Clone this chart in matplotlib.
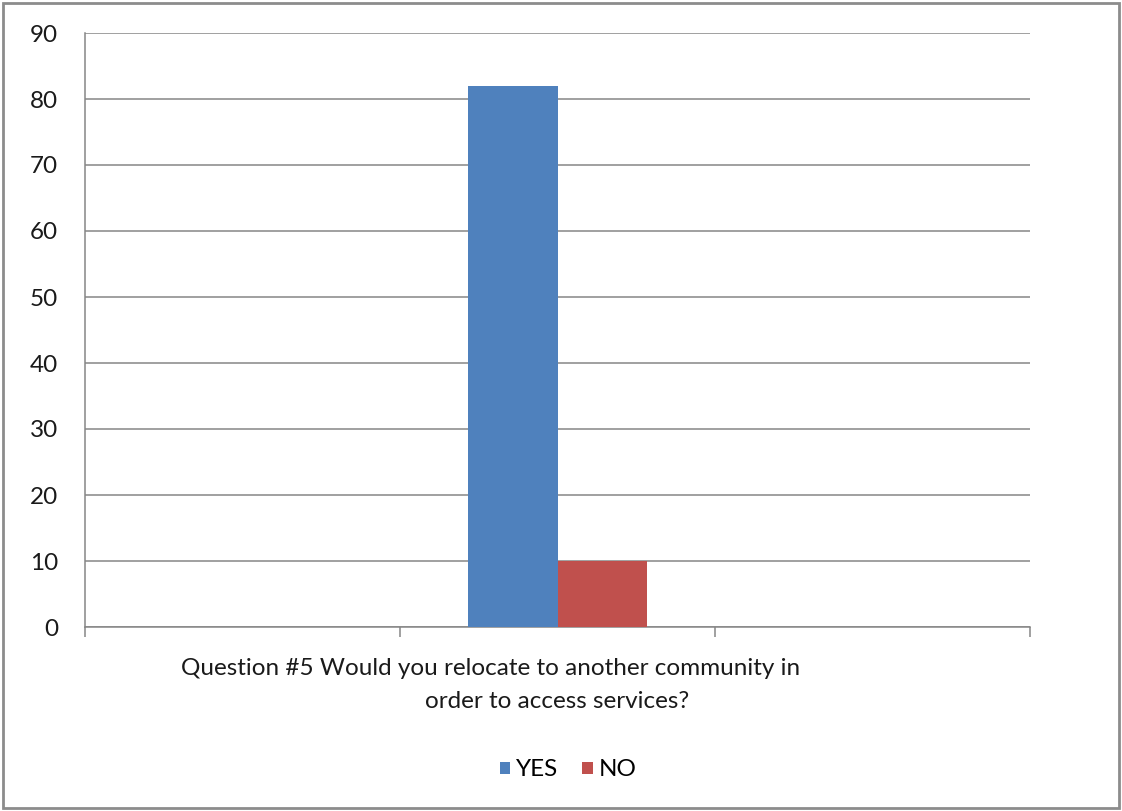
import matplotlib.pyplot as plt
from matplotlib.patches import Rectangle
import matplotlib.transforms as mtransforms

plt.rcParams['font.family'] = ['Lato', 'DejaVu Sans']

# Podaci
kategorije = [0, 1, 2]
serije = ['YES', 'NO']
vrijednosti = {'YES': [0, 82, 0], 'NO': [0, 10, 0]}
boje = {'YES': '#4F81BD', 'NO': '#C0504D'}
oznaka_redovi = ['Question #5 Would you relocate to another community in',
                 'order to access services?']

fig = plt.figure(figsize=(11.22, 8.11), dpi=100)
ax = fig.add_axes([85 / 1122, 1 - 627 / 811, 945 / 1122, 594 / 811])

sirina = 0.283
pomak = [-sirina / 2, sirina / 2]
for s, p in zip(serije, pomak):
    ax.bar([k + p for k in kategorije], vrijednosti[s], width=sirina,
           color=boje[s], label=s, zorder=3)

ax.set_xlim(-0.5, 2.5)
ax.set_ylim(0, 90)
ax.set_yticks(range(0, 91, 10))
ax.set_xticks([-0.5, 0.5, 1.5, 2.5])
ax.set_xticklabels([])
ax.yaxis.grid(True, color='#868686', linewidth=1.1, zorder=0)
for s in ['top', 'right']:
    ax.spines[s].set_visible(False)
for s in ['left', 'bottom']:
    ax.spines[s].set_color('#868686')
    ax.spines[s].set_linewidth(1.1)
ax.tick_params(axis='y', length=0, pad=19.5, labelsize=17.5, labelcolor='#1a1a1a')
ax.tick_params(axis='x', length=7, width=1.1, color='#868686', direction='out')

# Oznaka kategorije u dva reda
tr = mtransforms.blended_transform_factory(ax.transData, ax.transAxes)
ax.text(0.786, -0.0707, oznaka_redovi[0], transform=tr, ha='center', va='center',
        fontsize=17.5, color='#1a1a1a')
ax.text(1.0, -0.1246, oznaka_redovi[1], transform=tr, ha='center', va='center',
        fontsize=17.5, color='#1a1a1a')

fig.legend(loc='center', bbox_to_anchor=(568 / 1122, 1 - 770 / 811), ncol=2,
           frameon=False, fontsize=17.5, handlelength=0.42, handleheight=0.42,
           handletextpad=0.25, columnspacing=1.0)

# Okvir oko cijelog grafikona
fig.patches.append(Rectangle((3 / 1122, 3 / 811), 1116 / 1122, 805 / 811,
                             transform=fig.transFigure, fill=False,
                             edgecolor='#8c8c8c', linewidth=2))

fig.savefig('out.png', dpi=100, facecolor='white')
